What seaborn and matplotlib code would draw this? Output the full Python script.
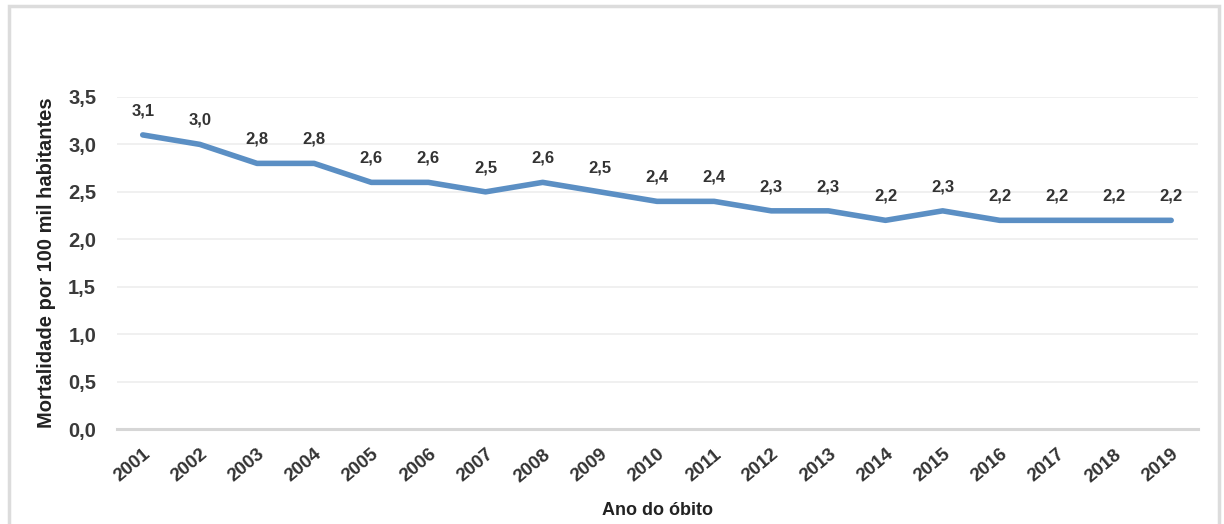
import matplotlib
matplotlib.use("Agg")
import matplotlib.pyplot as plt
import seaborn as sns
import pandas as pd
from matplotlib.patches import Rectangle

anos = [str(a) for a in range(2001, 2020)]
mortalidade = [3.1, 3.0, 2.8, 2.8, 2.6, 2.6, 2.5, 2.6, 2.5, 2.4, 2.4, 2.3, 2.3, 2.2, 2.3, 2.2, 2.2, 2.2, 2.2]
yticks = [0.0, 0.5, 1.0, 1.5, 2.0, 2.5, 3.0, 3.5]

sns.set_theme(style="white")
plt.rcParams['font.family'] = ['Liberation Sans', 'DejaVu Sans']

df = pd.DataFrame({"ano": anos, "taxa": mortalidade})

fig = plt.figure(figsize=(12.24, 5.24), dpi=100)
# light frame around the panel (open at the bottom edge of the image)
fig.patches.append(Rectangle((0.0075, -0.05), 0.9885, 1.038, transform=fig.transFigure,
                             fill=False, edgecolor="#dcdcdc", linewidth=2.5))
ax = fig.add_axes([0.0956, 0.181, 0.8832, 0.634])

sns.lineplot(data=df, x="ano", y="taxa", ax=ax, color="#5b8fc4", linewidth=4, sort=False)

for i, v in enumerate(mortalidade):
    ax.annotate(f"{v:.1f}".replace(".", ","), (i, v), xytext=(0, 12), textcoords="offset points",
                ha="center", va="bottom", fontsize=12, fontweight="bold", color="#333333")

ax.set_ylim(0, 3.5)
ax.set_xlim(-0.45, 18.47)
ax.set_yticks(yticks)
ax.set_yticklabels([f"{t:.1f}".replace(".", ",") for t in yticks], fontsize=14.5,
                   fontweight="bold", color="#3a3a3a")
ax.set_xticks(range(len(anos)))
ax.set_xticklabels(anos, rotation=40, ha="right", rotation_mode="anchor", fontsize=13.5,
                   fontweight="bold", color="#333333")
ax.tick_params(axis="x", length=0, pad=12)
ax.tick_params(axis="y", length=0, pad=15)
ax.grid(axis="y", color="#ededed", linewidth=1.2)
for s in ["top", "right", "left"]:
    ax.spines[s].set_visible(False)
ax.spines["bottom"].set_color("#d6d6d6")
ax.spines["bottom"].set_linewidth(2.2)

ax.set_xlabel("Ano do óbito", fontsize=13, fontweight="bold", color="#222222", labelpad=12)
ax.set_ylabel("Mortalidade por 100 mil habitantes", fontsize=14.5, fontweight="bold",
              color="#222222", labelpad=9)

fig.savefig("out.png", dpi=100, facecolor="white")
